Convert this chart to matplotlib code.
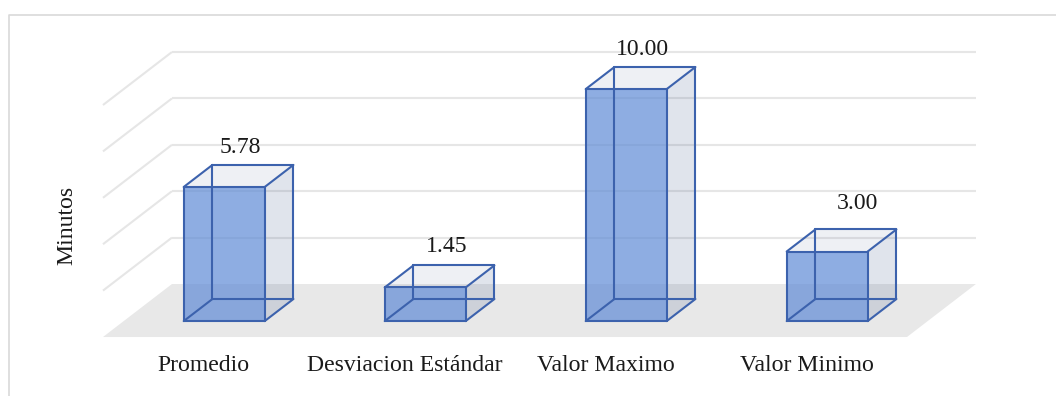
import matplotlib
matplotlib.use("Agg")
import matplotlib.pyplot as plt
from matplotlib.lines import Line2D

# Data
categories = ["Promedio", "Desviacion Estándar", "Valor Maximo", "Valor Minimo"]
values = [5.78, 1.45, 10.00, 3.00]
value_labels = ["5.78", "1.45", "10.00", "3.00"]
grid_levels = [0, 2, 4, 6, 8, 10]
y_title = "Minutos"

# Oblique 3-D projection: depth d in [0, 1] runs from the floor's front edge
# to the back wall; it shifts points right (category units) and up (value units).
DEPTH_DX = 0.343
DEPTH_DY = 2.284
BAR_W = 0.403
BAR_D0, BAR_D1 = 0.30, 0.717

FONT = "Liberation Serif"
FS = 17.1
EDGE = "#3C62AD"
FRONT = "#5F8BD6"
SIDE = "#4B608F"
FLOOR = "#E8E8E8"
GRID = "#E6E6E6"

# label nudges in pixels (x, y) relative to the centre of each bar's top face
label_nudge = [(2, 28), (7, 30), (2, 29), (16, 37)]


def proj(x, v, d):
    return x + d * DEPTH_DX, v + d * DEPTH_DY


fig = plt.figure(figsize=(10.56, 3.96), dpi=100)
ax = fig.add_axes([0, 0, 1, 1])
ax.set_xlim(-1.0124, 4.2413)
ax.set_ylim(-2.543, 14.526)
ax.axis("off")

n = len(categories)
left, right = -0.5, n - 0.5

# floor
floor = [proj(left, 0, 0), proj(right, 0, 0), proj(right, 0, 1), proj(left, 0, 1)]
ax.fill(*zip(*floor), color=FLOOR, lw=0, zorder=1)

# gridlines on back wall and left side wall
for g in grid_levels:
    if g == 0:
        continue
    a, b = proj(left, g, 1), proj(right, g, 1)
    ax.plot([a[0], b[0]], [a[1], b[1]], color=GRID, lw=1.5, zorder=2,
            solid_capstyle="butt")
    c = proj(left, g, 0)
    ax.plot([c[0], a[0]], [c[1], a[1]], color=GRID, lw=1.5, zorder=2,
            solid_capstyle="butt")

# bars
for i, h in enumerate(values):
    x0, x1 = i - BAR_W / 2, i + BAR_W / 2
    corners = {}
    for xn, xv in (("l", x0), ("r", x1)):
        for vn, vv in (("b", 0.0), ("t", h)):
            for dn, dv in (("f", BAR_D0), ("k", BAR_D1)):
                corners[xn + vn + dn] = proj(xv, vv, dv)

    def face(keys, **kw):
        pts = [corners[k] for k in keys]
        ax.fill(*zip(*pts), lw=0, **kw)

    face(["rbf", "rbk", "rtk", "rtf"], color=SIDE, alpha=0.17, zorder=3)
    face(["ltf", "rtf", "rtk", "ltk"], color=SIDE, alpha=0.09, zorder=3)
    face(["lbf", "rbf", "rtf", "ltf"], color=FRONT, alpha=0.70, zorder=4)

    edges = [("lbf", "rbf"), ("rbf", "rtf"), ("rtf", "ltf"), ("ltf", "lbf"),
             ("lbk", "rbk"), ("rbk", "rtk"), ("rtk", "ltk"), ("ltk", "lbk"),
             ("lbf", "lbk"), ("rbf", "rbk"), ("rtf", "rtk"), ("ltf", "ltk")]
    for a, b in edges:
        pa, pb = corners[a], corners[b]
        ax.plot([pa[0], pb[0]], [pa[1], pb[1]], color=EDGE, lw=1.5,
                zorder=5, solid_capstyle="round")

    # value label above the centre of the top face
    cx, cy = proj(i, h, (BAR_D0 + BAR_D1) / 2)
    nx, ny = label_nudge[i]
    ax.annotate(value_labels[i], (cx, cy), xytext=(nx * 0.72, ny * 0.72),
                textcoords="offset points", ha="center", va="center",
                fontsize=FS, family=FONT, color="#1a1a1a", zorder=6)

    # category label under the floor's front edge
    fx, fy = proj(i, 0, 0)
    ax.annotate(categories[i], (fx, fy), xytext=(0, -28 * 0.72),
                textcoords="offset points", ha="center", va="center",
                fontsize=FS, family=FONT, color="#1a1a1a")

# axis title
fig.text(67 / 1056, 1 - 225 / 396, y_title, rotation=90, ha="center",
         va="center", fontsize=FS, family=FONT, color="#1a1a1a")

# chart area frame
fig.add_artist(Line2D([9 / 1056, 9 / 1056, 1.0], [0.0, 1 - 15 / 396, 1 - 15 / 396],
                      transform=fig.transFigure, color="#D9D9D9", lw=1.2))

fig.savefig("out.png", dpi=100)
